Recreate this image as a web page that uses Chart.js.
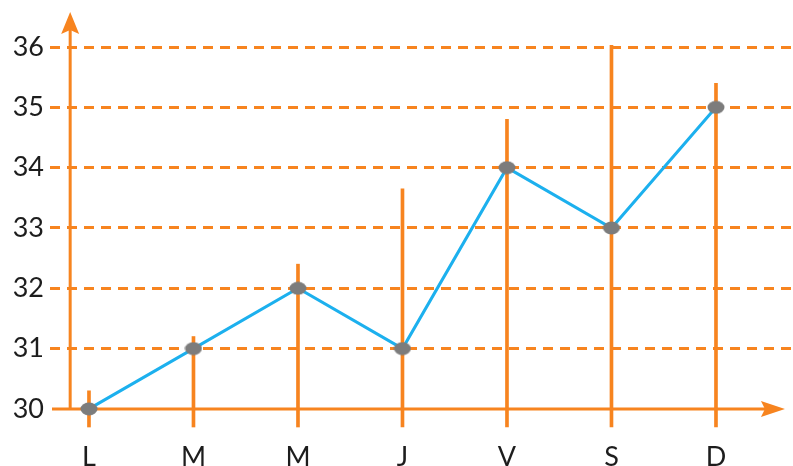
<!DOCTYPE html>
<html>
<head>
<meta charset="utf-8">
<script src="https://cdn.jsdelivr.net/npm/chart.js@4/dist/chart.umd.min.js"></script>
<style>
  html, body { margin: 0; padding: 0; background: #fff; }
  #wrap { width: 793px; height: 466px; }
</style>
</head>
<body>
<div id="wrap"><canvas id="grafico"></canvas></div>
<script>
// Días de la semana y temperaturas
const dias = ['L', 'M', 'M', 'J', 'V', 'S', 'D'];
const temperaturas = [30, 31, 32, 31, 34, 33, 35];
// Altura de las líneas verticales de cada día
const alturas = [30.3, 31.2, 32.4, 33.65, 34.8, 36.03, 35.4];
const marcasY = [30, 31, 32, 33, 34, 35, 36];

const naranja = '#f7841f';
const azul = '#1cb0ee';
const gris = '#7c7c7c';
const baseEje = 30;      // donde va el eje horizontal
const pieLineas = 29.7;  // las líneas verticales bajan un poco del eje
const ejeYEn = -0.18;    // posición del eje vertical (en unidades del eje x)
const finEjeX = 6.66;    // punta de la flecha horizontal
const finEjeY = 36.58;   // punta de la flecha vertical
const xMin = -0.373, xMax = 6.737;

// Punto gris un poco ovalado
const punto = document.createElement('canvas');
punto.width = 18; punto.height = 14;
const pctx = punto.getContext('2d');
pctx.fillStyle = gris;
pctx.beginPath();
pctx.ellipse(9, 7, 8.5, 6.5, 0, 0, Math.PI * 2);
pctx.fill();

// Ejes con flecha dibujados a mano
const ejesConFlecha = {
    id: 'ejesConFlecha',
    beforeDatasetsDraw(chart) {
        const { ctx, scales: { x, y }, chartArea } = chart;
        const y0 = y.getPixelForValue(baseEje);
        const x0 = x.getPixelForValue(ejeYEn);
        const xFin = x.getPixelForValue(finEjeX);
        const yTop = y.getPixelForValue(finEjeY);
        ctx.save();
        ctx.strokeStyle = naranja;
        ctx.fillStyle = naranja;
        ctx.lineWidth = 3;
        // eje horizontal
        ctx.beginPath();
        ctx.moveTo(chartArea.left + 2, y0);
        ctx.lineTo(xFin - 15, y0);
        ctx.stroke();
        ctx.beginPath();
        ctx.moveTo(xFin, y0);
        ctx.lineTo(xFin - 24, y0 - 8);
        ctx.lineTo(xFin - 20, y0);
        ctx.lineTo(xFin - 24, y0 + 8);
        ctx.closePath();
        ctx.fill();
        // eje vertical
        ctx.beginPath();
        ctx.moveTo(x0, y0);
        ctx.lineTo(x0, yTop + 15);
        ctx.stroke();
        ctx.beginPath();
        ctx.moveTo(x0, yTop);
        ctx.lineTo(x0 - 9, yTop + 22);
        ctx.lineTo(x0, yTop + 18);
        ctx.lineTo(x0 + 9, yTop + 22);
        ctx.closePath();
        ctx.fill();
        ctx.restore();
    }
};

const ctx = document.getElementById('grafico').getContext('2d');
new Chart(ctx, {
    data: {
        datasets: [
            {
                type: 'line',
                data: temperaturas.map((t, i) => ({ x: i, y: t })),
                borderColor: azul,
                borderWidth: 3,
                pointStyle: punto,
                pointRadius: 8,
                pointHoverRadius: 8,
                tension: 0,
                clip: false,
                order: 1
            },
            {
                type: 'bar',
                data: alturas.map((a, i) => ({ x: i, y: [pieLineas, a] })),
                backgroundColor: naranja,
                barThickness: 3,
                clip: false,
                order: 2
            }
        ]
    },
    options: {
        responsive: true,
        maintainAspectRatio: false,
        animation: false,
        layout: { padding: 0, autoPadding: false },
        plugins: { legend: { display: false }, tooltip: { enabled: false } },
        scales: {
            x: {
                type: 'linear',
                offset: false,
                bounds: 'data',
                min: xMin,
                max: xMax,
                afterBuildTicks: s => { s.ticks = dias.map((d, i) => ({ value: i })); },
                afterFit: s => { s.height = 39; s.paddingLeft = 0; s.paddingRight = 0; },
                ticks: {
                    callback: (v, i) => dias[i],
                    autoSkip: false,
                    maxRotation: 0,
                    padding: 6,
                    color: '#1d1d1d',
                    font: { family: 'Lato', size: 27 }
                },
                grid: { display: false },
                border: { display: false }
            },
            y: {
                min: pieLineas,
                max: 36.78,
                afterBuildTicks: s => { s.ticks = marcasY.map(v => ({ value: v })); },
                afterFit: s => { s.width = 50; s.paddingTop = 0; s.paddingBottom = 0; },
                ticks: {
                    padding: 6,
                    color: '#1d1d1d',
                    font: { family: 'Lato', size: 27 }
                },
                grid: {
                    color: c => c.tick && c.tick.value === baseEje ? 'rgba(0,0,0,0)' : naranja,
                    lineWidth: 3,
                    drawTicks: false
                },
                border: { display: false, dash: [10, 7] }
            }
        }
    },
    plugins: [ejesConFlecha]
});
</script>
</body>
</html>
